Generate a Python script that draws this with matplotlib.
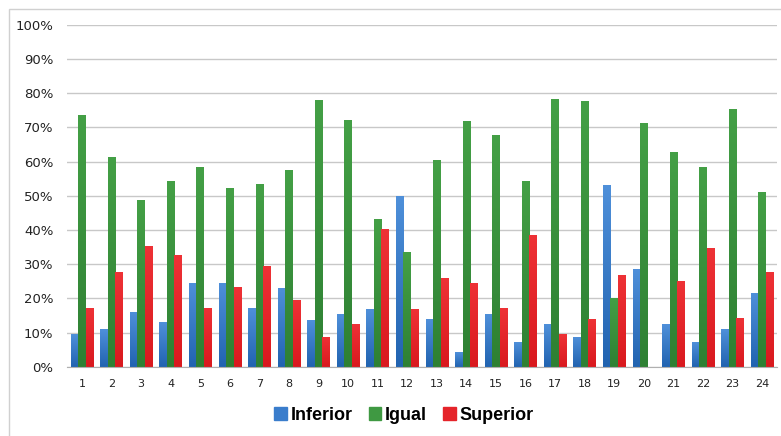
import matplotlib
matplotlib.use("Agg")
from matplotlib import pyplot as plt
from matplotlib.colors import LinearSegmentedColormap
from matplotlib.patches import Rectangle
from matplotlib.ticker import FuncFormatter
import numpy as np

categories = [str(i) for i in range(1, 25)]
inferior = [9.5, 10.9, 16.1, 13.0, 24.6, 24.6, 17.1, 23.1, 13.7, 15.4, 16.8, 50.0,
            13.9, 4.2, 15.4, 7.1, 12.5, 8.8, 53.2, 28.5, 12.5, 7.1, 10.9, 21.7]
igual = [73.7, 61.5, 48.8, 54.3, 58.5, 52.3, 53.4, 57.6, 77.9, 72.2, 43.3, 33.6,
         60.5, 71.9, 67.8, 54.3, 78.4, 77.7, 20.2, 71.3, 62.9, 58.5, 75.5, 51.1]
superior = [17.1, 27.8, 35.3, 32.7, 17.1, 23.2, 29.5, 19.5, 8.8, 12.5, 40.2, 16.9,
            25.9, 24.4, 17.2, 38.6, 9.5, 14.0, 26.7, 0.0, 25.0, 34.8, 14.1, 27.7]

series = [
    ("Inferior", inferior, ("#4f90da", "#2163b0"), "#3a7dcc"),
    ("Igual", igual, ("#44a046", "#2e8033"), "#3f9942"),
    ("Superior", superior, ("#ee3236", "#d9191e"), "#e5242a"),
]

fig = plt.figure(figsize=(7.81, 4.36), dpi=100)
ax = fig.add_axes([0.086, 0.159, 0.9087, 0.7837])

x = np.arange(len(categories))
w = 0.254
grad = np.linspace(1, 0, 256).reshape(-1, 1)

handles = []
for k, (name, vals, (top, bottom), solid) in enumerate(series):
    bars = ax.bar(x + (k - 1) * w, vals, width=w, color=bottom, linewidth=0,
                  label=name, zorder=2)
    cmap = LinearSegmentedColormap.from_list(name, [bottom, top])
    # vertical shading inside each bar
    for b in bars:
        h = b.get_height()
        if h <= 0:
            continue
        x0 = b.get_x()
        im = ax.imshow(grad, cmap=cmap, aspect="auto", origin="upper",
                       extent=(x0, x0 + b.get_width(), 0, h), zorder=2.5)
        im.set_clip_path(b)
    handles.append(Rectangle((0, 0), 1, 1, color=solid))

ax.set_xlim(-0.5, len(categories) - 0.5)
ax.set_ylim(0, 100)
ax.set_yticks(range(0, 101, 10))
ax.yaxis.set_major_formatter(FuncFormatter(lambda v, p: f"{v:.0f}%"))
ax.set_xticks(x)
ax.set_xticklabels(categories)

ax.grid(axis="y", color="#c8c8c8", linewidth=1, zorder=0)
ax.set_axisbelow(True)
for s in ["top", "right", "left"]:
    ax.spines[s].set_visible(False)
ax.spines["bottom"].set_color("#b0b0b0")
ax.tick_params(axis="both", length=0, colors="#222222")
ax.tick_params(axis="y", labelsize=9.5, pad=10)
ax.tick_params(axis="x", labelsize=8, pad=9)

fig.legend(handles, [s[0] for s in series], loc="center",
           bbox_to_anchor=(0.517, 0.048), ncol=3, frameon=False,
           prop={"family": "Liberation Sans", "weight": "bold", "size": 13},
           handlelength=0.7, handleheight=0.7, handletextpad=0.2,
           columnspacing=0.9)

# light frame around the chart
fig.patches.append(Rectangle((9 / 781, -0.1), 1.2, 1 - 9 / 436 + 0.1,
                             transform=fig.transFigure, fill=False,
                             edgecolor="#d0d0d0", linewidth=1))

fig.savefig("out.png", dpi=100)
